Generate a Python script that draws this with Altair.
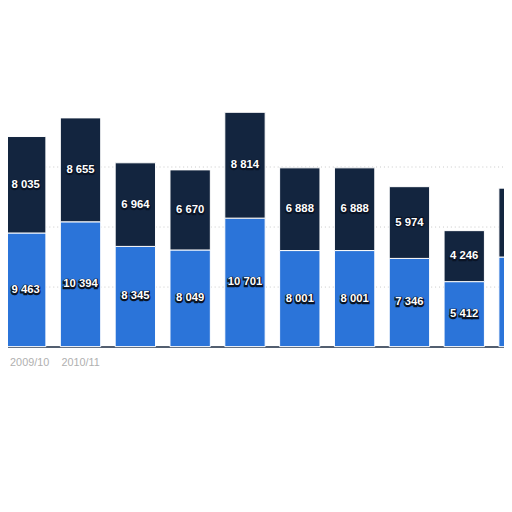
import altair as alt
import pandas as pd

seasons = ["2009/10", "2010/11", "2011/12", "2012/13", "2013/14",
           "2014/15", "2015/16", "2016/17", "2017/18", "2018/19"]
lower_vals = [9463, 10394, 8345, 8049, 10701, 8001, 8001, 7346, 5412, 7460]
upper_vals = [8035, 8655, 6964, 6670, 8814, 6888, 6888, 5974, 4246, 5740]
series_names = ["Series 1", "Series 2"]
shown_labels = ["2009/10", "2010/11"]
hidden_value_season = "2018/19"


def fmt(v):
    return f"{v:,}".replace(",", " ")


rows = []
for s, lo, up in zip(seasons, lower_vals, upper_vals):
    rows.append({"season": s, "series": series_names[0], "order": 0, "value": lo,
                 "y0": 0, "y1": lo, "mid": lo / 2, "label": fmt(lo)})
    rows.append({"season": s, "series": series_names[1], "order": 1, "value": up,
                 "y0": lo, "y1": lo + up, "mid": lo + up / 2, "label": fmt(up)})
df = pd.DataFrame(rows)

label_expr = ("datum.value == '" + shown_labels[0] + "' || datum.value == '"
              + shown_labels[1] + "' ? datum.value : ''")

x_enc = alt.X("season:N", sort=seasons, title=None,
              scale=alt.Scale(range=[-2.5, 539.8], paddingInner=0.264, paddingOuter=0),
              axis=alt.Axis(labelAngle=0, labelColor="#b0b0b0", labelFontSize=11,
                            labelFont="Liberation Sans", ticks=False, domainColor="#1a2a40",
                            domainWidth=1.5, labelPadding=10, labelExpr=label_expr,
                            labelOverlap=False,
                            labelOffset=alt.ExprRef(
                                "datum.value == '" + shown_labels[0] + "' ? 4 : 0")))
y_scale = alt.Scale(domain=[0, 20000])

bars = alt.Chart(df).mark_bar(stroke="white", strokeWidth=1).encode(
    x=x_enc,
    y=alt.Y("y1:Q", scale=y_scale, title=None,
            axis=alt.Axis(grid=True, gridDash=[1, 3], gridColor="#c8c8c8",
                          values=[5000, 10000, 15000], labels=False, ticks=False,
                          domain=False)),
    y2="y0:Q",
    color=alt.Color("series:N", scale=alt.Scale(domain=series_names,
                                                 range=["#2b74d9", "#13253f"]),
                    legend=None),
)

text_base = alt.Chart(df).transform_filter(
    alt.datum.season != hidden_value_season
)

halo = text_base.mark_text(font="Liberation Sans", fontWeight="bold", fontSize=11.5,
                           color="#0a1426", stroke="#0a1426", strokeWidth=2.5,
                           dy=1).encode(
    x=alt.X("season:N", sort=seasons),
    y=alt.Y("mid:Q", scale=y_scale),
    text="label:N",
)
labels = text_base.mark_text(font="Liberation Sans", fontWeight="bold", fontSize=11.5,
                             color="white").encode(
    x=alt.X("season:N", sort=seasons),
    y=alt.Y("mid:Q", scale=y_scale),
    text="label:N",
)

chart = alt.layer(bars, halo, labels).properties(
    width=504, height=244,
    padding={"left": 0, "top": 97, "right": 0, "bottom": 40},
    autosize=alt.AutoSizeParams(type="none"),
    background="white",
).configure_view(stroke=None)

chart.save("out.html", embed_options={"renderer": "svg", "actions": False})
